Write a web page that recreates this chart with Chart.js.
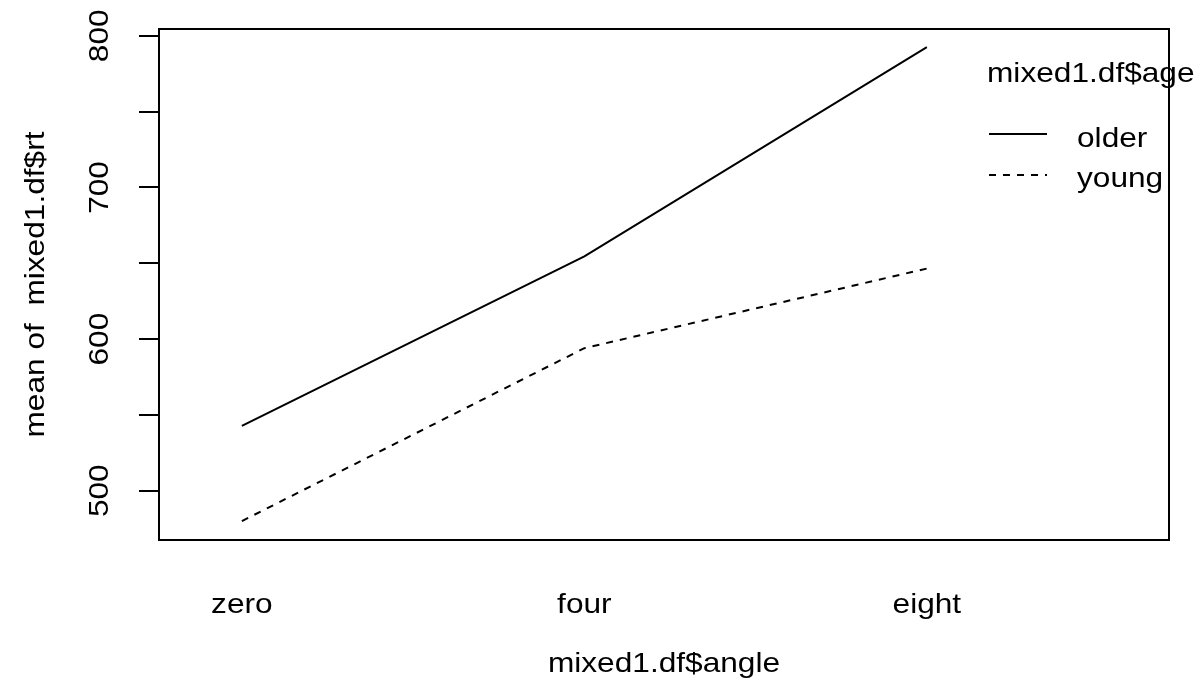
<!DOCTYPE html>
<html>
<head>
<meta charset="utf-8">
<script src="https://cdn.jsdelivr.net/npm/chart.js@4.4.1/dist/chart.umd.min.js"></script>
<style>
html,body{margin:0;padding:0;background:#fff;}
#wrap{width:1200px;height:691px;}
</style>
</head>
<body>
<div id="wrap"><canvas id="c" width="1200" height="691"></canvas></div>
<script>
const categories = ['zero', 'four', 'eight'];
const groups = ['older', 'young'];
const older = [542.8, 654.5, 792.5];
const young = [480.0, 594.0, 646.5];
const yTickValues = [500, 550, 600, 650, 700, 750, 800];
const yTickLabels = ['500', '', '600', '', '700', '', '800'];
const xTitle = 'mixed1.df$angle';
const yTitle = 'mean of  mixed1.df$rt';
const legendTitle = 'mixed1.df$age';

const FONT = '"Liberation Sans", Arial, Helvetica, sans-serif';
const FS = 28;
const WIDEN = 1.13;

const toPoints = arr => arr.map((v, i) => ({x: i + 1, y: v}));

function hText(ctx, txt, x, y, align) {
  ctx.save();
  ctx.translate(x, y);
  ctx.scale(WIDEN, 1);
  ctx.textAlign = align;
  ctx.textBaseline = 'alphabetic';
  ctx.fillText(txt, 0, 0);
  ctx.restore();
}
function vText(ctx, txt, x, y) {
  ctx.save();
  ctx.translate(x, y);
  ctx.rotate(-Math.PI / 2);
  ctx.scale(WIDEN, 1);
  ctx.textAlign = 'center';
  ctx.textBaseline = 'middle';
  ctx.fillText(txt, 0, 0);
  ctx.restore();
}

const framePlugin = {
  id: 'frame',
  afterDraw(chart) {
    const {ctx, chartArea: a, scales} = chart;
    ctx.save();
    ctx.strokeStyle = '#000';
    ctx.lineWidth = 2;
    ctx.strokeRect(a.left, a.top, a.right - a.left, a.bottom - a.top);
    ctx.fillStyle = '#000';
    ctx.font = FS + 'px ' + FONT;
    yTickValues.forEach((v, i) => {
      if (!yTickLabels[i]) return;
      vText(ctx, yTickLabels[i], 100, scales.y.getPixelForValue(v));
    });
    categories.forEach((c, i) => {
      hText(ctx, c, scales.x.getPixelForValue(i + 1), 613, 'center');
    });
    hText(ctx, xTitle, (a.left + a.right) / 2, 672, 'center');
    vText(ctx, yTitle, 36, (a.top + a.bottom) / 2);
    hText(ctx, legendTitle, 987, 82, 'left');
    const styles = [[], [7, 7]];
    const lineY = [134, 175];
    const textY = [147, 187];
    groups.forEach((g, i) => {
      ctx.setLineDash(styles[i]);
      ctx.beginPath();
      ctx.moveTo(989, lineY[i]);
      ctx.lineTo(1047, lineY[i]);
      ctx.stroke();
      ctx.setLineDash([]);
      hText(ctx, g, 1077, textY[i], 'left');
    });
    ctx.restore();
  }
};

new Chart(document.getElementById('c'), {
  type: 'line',
  data: {
    datasets: [
      {label: groups[0], data: toPoints(older), borderColor: '#000', borderWidth: 2, pointRadius: 0, fill: false, tension: 0},
      {label: groups[1], data: toPoints(young), borderColor: '#000', borderWidth: 2, borderDash: [7, 7], pointRadius: 0, fill: false, tension: 0}
    ]
  },
  options: {
    responsive: false,
    animation: false,
    layout: {padding: {top: 29, right: 31, left: 0, bottom: 0}},
    plugins: {legend: {display: false}, tooltip: {enabled: false}},
    scales: {
      x: {
        type: 'linear',
        min: 0.758,
        max: 3.707,
        afterBuildTicks: s => { s.ticks = categories.map((c, i) => ({value: i + 1})); },
        afterFit: s => { s.height = 151; },
        ticks: {display: false},
        grid: {display: false, drawTicks: false},
        border: {display: false}
      },
      y: {
        min: 467.5,
        max: 804.5,
        afterBuildTicks: s => { s.ticks = yTickValues.map(v => ({value: v})); },
        afterFit: s => { s.width = 159; },
        ticks: {display: true, color: 'rgba(0,0,0,0)', callback: () => '', padding: 0},
        grid: {drawOnChartArea: false, drawTicks: true, tickLength: 20, color: '#000', lineWidth: 2},
        border: {display: false}
      }
    }
  },
  plugins: [framePlugin]
});
</script>
</body>
</html>
